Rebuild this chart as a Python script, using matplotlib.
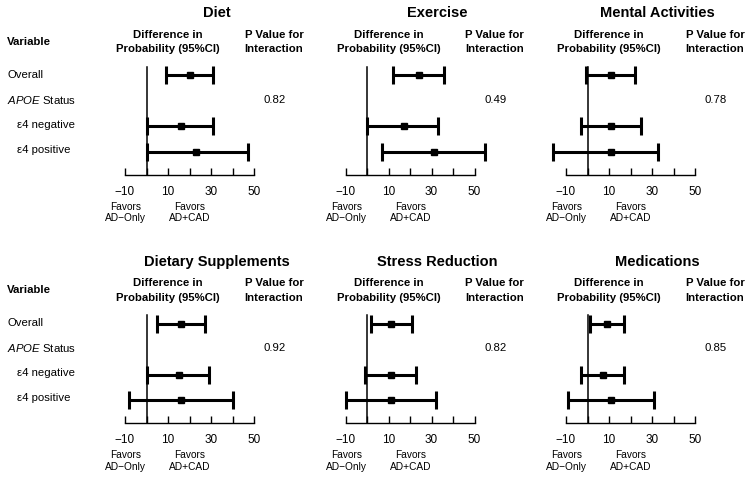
import matplotlib
matplotlib.use("Agg")
import matplotlib.pyplot as plt
import numpy as np

plt.rcParams['font.family'] = ['Liberation Sans', 'DejaVu Sans']
plt.rcParams['mathtext.fontset'] = 'custom'
plt.rcParams['mathtext.rm'] = 'Liberation Sans'
plt.rcParams['mathtext.it'] = 'Liberation Sans:italic'

# panels, left to right, top to bottom
titles = ["Diet", "Exercise", "Mental Activities",
          "Dietary Supplements", "Stress Reduction", "Medications"]
# each panel: Overall, e4 negative, e4 positive
estimates = [[20, 16, 23], [24, 17, 31], [11, 11, 11],
             [16, 15, 16], [11, 11, 11], [9, 7, 11]]
lower = [[9, 0, 0], [12, 0, 7], [-0.5, -3, -16],
         [5, 0, -8], [2, -1, -10], [1, -3, -9]]
upper = [[31, 31, 47], [36, 33, 55], [22, 25, 33],
         [27, 29, 40], [21, 23, 32], [17, 17, 31]]
p_values = ["0.82", "0.49", "0.78", "0.92", "0.82", "0.85"]

row_names = ["Overall", r"$\mathit{APOE}$ Status", "ε4 negative", "ε4 positive"]
bar_rows = [1, 3, 4]
ticks = [-10, 0, 10, 20, 30, 40, 50]
tick_labels = ["\u221210", "", "10", "", "30", "", "50"]

W, H = 754, 480
fig = plt.figure(figsize=(W / 100, H / 100), dpi=100)


def txt(x, y, s, **kw):
    # place text using pixel coords from the top-left corner
    fig.text(x / W, 1 - y / H, s, **kw)


for i, title in enumerate(titles):
    r, c = divmod(i, 3)
    dx = 220.5 * c
    dy = 248.3 * r

    left, top, w, h = 103.5 + dx, 60 + dy, 172, 115
    ax = fig.add_axes([left / W, 1 - (top + h) / H, w / W, h / H])
    ax.set_xlim(-20, 60)
    ax.set_ylim(4.914, 0.4)

    est = np.array(estimates[i])
    lo = np.array(lower[i])
    hi = np.array(upper[i])
    ax.plot([0, 0], [0.663, 4.914], color='black', lw=1.1)
    ax.errorbar(est, bar_rows, xerr=[est - lo, hi - est], fmt='s',
                color='black', ms=5, elinewidth=2.2, capsize=6.8,
                capthick=2.2)

    for s in ['left', 'top', 'right']:
        ax.spines[s].set_visible(False)
    ax.spines['bottom'].set_bounds(-10, 50)
    ax.spines['bottom'].set_linewidth(1.0)
    ax.set_yticks([])
    ax.set_xticks(ticks)
    ax.set_xticklabels(tick_labels, fontsize=8.5)
    ax.tick_params(axis='x', direction='in', length=5, width=1, pad=8)
    ax.patch.set_alpha(0)

    txt(216.5 + dx, 13.3 + dy, title, ha='center', va='center',
        fontsize=10.5, fontweight='bold')
    txt(168 + dx, 35 + dy, "Difference in", ha='center', va='center',
        fontsize=8.2, fontweight='bold')
    txt(168 + dx, 49.3 + dy, "Probability (95%CI)", ha='center', va='center',
        fontsize=8.2, fontweight='bold')
    txt(274 + dx, 35 + dy, "P Value for", ha='center', va='center',
        fontsize=8.2, fontweight='bold')
    txt(274 + dx, 49.3 + dy, "Interaction", ha='center', va='center',
        fontsize=8.2, fontweight='bold')
    txt(275 + dx, 100 + dy, p_values[i], ha='center', va='center', fontsize=8.2)
    txt(125.7 + dx, 212.8 + dy, "Favors\nAD\u2212Only", ha='center', va='center',
        fontsize=7.3, linespacing=1.15)
    txt(190 + dx, 212.8 + dy, "Favors\nAD+CAD", ha='center', va='center',
        fontsize=7.3, linespacing=1.15)

    if c == 0:
        txt(7, 41.7 + dy, "Variable", ha='left', va='center',
            fontsize=8.2, fontweight='bold')
        ys = [75, 100, 125, 150]
        xs = [7, 7, 17, 17]
        for name, x, y in zip(row_names, xs, ys):
            txt(x, y + dy, name, ha='left', va='center', fontsize=8.2)

fig.savefig("out.png", dpi=100)
